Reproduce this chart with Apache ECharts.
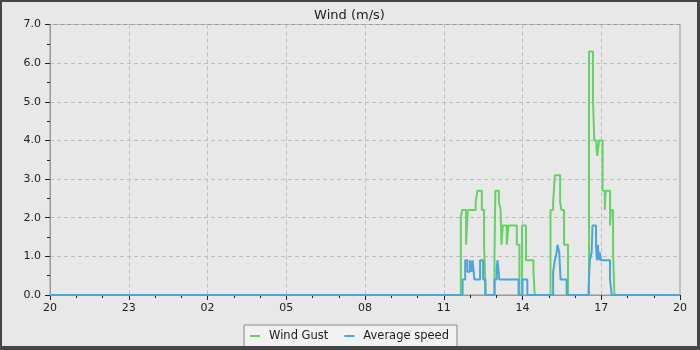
<!DOCTYPE html>
<html><head><meta charset="utf-8">
<script src="https://cdn.jsdelivr.net/npm/echarts@6/dist/echarts.min.js"></script>
<style>
html,body{margin:0;padding:0;background:#464646;}
#frame{position:absolute;left:0;top:0;width:700px;height:350px;background:#464646;}
#chart{position:absolute;left:2px;top:2px;width:695px;height:344px;background:#e8e8e8;}
</style></head>
<body><div id="frame"><div id="chart"></div></div>
<script>
// x-axis tick labels (hours, every 3h starting 20:00)
const xTickLabels = ['20','23','02','05','08','11','14','17','20'];
// Wind Gust (m/s): change points (clock time, value held until next point)
const gustTimes  = ['20:00','11:39','11:42','11:51','11:55','12:13','12:17','12:27','12:32','12:36',
                    '12:56','12:58','13:06','13:10','13:12','13:15','13:24','13:28','13:47','13:53','13:59','14:08','14:25','14:28',
                    '15:04','15:10','15:14','15:26','15:29','15:35','15:44',
                    '16:32','16:41','16:44','16:49','16:51','16:55','17:03','17:08','17:10','17:20','17:22','17:27','17:30'];
const gustValues = [0,2.0,2.2,1.3,2.2,2.4,2.7,2.2,1.3,0,
                    1.1,2.7,2.4,2.2,1.3,1.8,1.3,1.8,1.3,0,1.8,0.9,0.6,0,
                    2.2,2.4,3.1,2.4,2.2,1.3,0,
                    6.3,5.1,4.0,3.8,3.6,4.0,2.7,2.2,2.7,1.8,2.2,1.1,0];
// Average speed (m/s)
const avgTimes  = ['20:00','11:43','11:49','11:54','12:00','12:04','12:06','12:10','12:23','12:30','12:35',
                   '12:56','13:01','13:03','13:07','13:51','14:00','14:11',
                   '15:10','15:14','15:18','15:20','15:24','15:27','15:41',
                   '16:31','16:34','16:38','16:40','16:48','16:50','16:52','16:55','16:57','16:59','17:20','17:24'];
const avgValues = [0,0.4,0.9,0.6,0.9,0.6,0.9,0.4,0.9,0.4,0,
                   0.4,0.7,0.9,0.4,0,0.4,0,
                   0.6,0.9,1.1,1.3,1.1,0.4,0,
                   0.2,0.9,1.1,1.8,1.3,0.9,1.3,0.9,1.1,0.9,0.4,0];
const startHour = 20;
const spanHours = 24;

function toOffset(s){
  const [h,m] = s.split(':').map(Number);
  let o = (h - startHour) + m/60;
  if (o < 0) o += 24;
  return o;
}
function build(times, vals){
  const d = times.map((t,i)=>[toOffset(t), vals[i]]);
  d.push([spanHours, vals[vals.length-1]]);
  return d;
}
const chart = echarts.init(document.getElementById('chart'), null, {renderer:'canvas'});
const font = 'DejaVu Sans';
chart.setOption({
  backgroundColor:'#e8e8e8',
  animation:false,
  title:{text:'Wind (m/s)', left:'center', top:2,
    textStyle:{fontFamily:font, fontSize:13, fontWeight:'normal', color:'#222'}},
  grid:{left:48, top:22.5, width:630, height:270.5, show:true, borderColor:'#999', borderWidth:1, backgroundColor:'transparent'},
  legend:{bottom:-1, left:'center', itemWidth:10, itemHeight:2, icon:'rect', itemGap:16,
    backgroundColor:'#f2f2f2', borderColor:'#888', borderWidth:1, borderRadius:0, padding:[5,8,5,6],
    textStyle:{fontFamily:font, fontSize:11.5, color:'#222', padding:[0,0,0,4]},
    data:['Wind Gust','Average speed']},
  xAxis:{type:'value', min:0, max:spanHours, interval:3,
    axisLine:{lineStyle:{color:'#999'}},
    axisTick:{length:5, lineStyle:{color:'#222'}},
    minorTick:{show:true, splitNumber:3, length:3, lineStyle:{color:'#222'}},
    axisLabel:{fontFamily:font, fontSize:11, color:'#222', margin:8,
      formatter:(v)=> xTickLabels[Math.round(v/3)]},
    splitLine:{show:true, lineStyle:{color:'#bdbdbd', type:[4,3]}}},
  yAxis:{type:'value', min:0, max:7, interval:1,
    axisLine:{show:true, lineStyle:{color:'#999'}},
    axisTick:{show:true, length:5, lineStyle:{color:'#222'}},
    minorTick:{show:true, splitNumber:2, length:3, lineStyle:{color:'#222'}},
    axisLabel:{fontFamily:font, fontSize:11, color:'#222', margin:9, formatter:(v)=>v.toFixed(1)},
    splitLine:{show:true, lineStyle:{color:'#bdbdbd', type:[4,3]}}},
  series:[
    {name:'Wind Gust', type:'line', step:'end', showSymbol:false, symbol:'none',
     data:build(gustTimes,gustValues), lineStyle:{color:'#66d166', width:2}, itemStyle:{color:'#66d166'}},
    {name:'Average speed', type:'line', step:'end', showSymbol:false, symbol:'none',
     data:build(avgTimes,avgValues), lineStyle:{color:'#4aa5d8', width:2}, itemStyle:{color:'#4aa5d8'}}
  ]
});
</script></body></html>
